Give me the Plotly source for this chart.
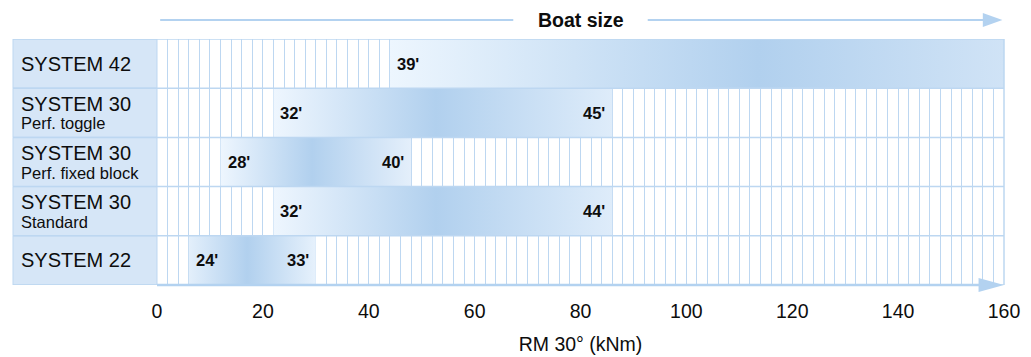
import plotly.graph_objects as go

# ---- data ----
systems = ["SYSTEM 42", "SYSTEM 30", "SYSTEM 30", "SYSTEM 30", "SYSTEM 22"]
subtitles = ["", "Perf. toggle", "Perf. fixed block", "Standard", ""]
rm_min = [44, 22, 12, 22, 6]
rm_max = [160, 86, 48, 86, 30]
size_min = ["39'", "32'", "28'", "32'", "24'"]
size_max = ["", "45'", "40'", "44'", "33'"]
x_ticks = [0, 20, 40, 60, 80, 100, 120, 140, 160]
x_title = "RM 30° (kNm)"
top_title = "Boat size"

# ---- style ----
FONT = "Liberation Sans, Arial, Helvetica, sans-serif"
TXT = "#0d0d0d"
GRID = "#bdd7f1"
LABEL_BG = "#d6e6f7"
ARROW = "#b3d2f0"
peaks = [0.6, 0.48, 0.48, 0.48, 0.46]
ends = ["#d0e3f6", "#deecfa", "#e4effb", "#deecfa", "#e6f1fc"]
starts = ["#edf6fe", "#eef6fe", "#eef6fe", "#eef6fe", "#e3effb"]
DARK = "#b1d0ee"

n = len(systems)
rows = list(range(n - 1, -1, -1))  # top row gets highest y

fig = go.Figure()

for i in range(n):
    y = rows[i]
    x0, x1 = rm_min[i], rm_max[i]
    fig.add_trace(go.Scatter(
        x=[x0, x1, x1, x0, x0],
        y=[y - 0.5, y - 0.5, y + 0.5, y + 0.5, y - 0.5],
        mode="lines", line=dict(width=0),
        fill="toself",
        fillgradient=dict(type="horizontal",
                          colorscale=[[0, starts[i]], [peaks[i], DARK], [1, ends[i]]]),
        hoverinfo="skip", showlegend=False,
    ))

shapes = []
annotations = []
PLOT_W = 847
PLOT_H = 246
left_px = 144 / PLOT_W  # width of label column in paper units

# label column cells
for i in range(n):
    y = rows[i]
    shapes.append(dict(type="rect", xref="paper", yref="y",
                       x0=-left_px, x1=0, y0=y - 0.5, y1=y + 0.5,
                       fillcolor=LABEL_BG, line=dict(color=GRID, width=1), layer="above"))
# row separators
for k in range(n + 1):
    yy = k - 0.5
    shapes.append(dict(type="line", xref="paper", yref="y",
                       x0=-left_px, x1=1, y0=yy, y1=yy,
                       line=dict(color=GRID, width=1.5), layer="above"))
# right border
shapes.append(dict(type="line", xref="paper", yref="paper", x0=1, x1=1, y0=0, y1=1,
                   line=dict(color=GRID, width=1.5), layer="above"))

# bottom arrow
ah = 7 / PLOT_H
shapes.append(dict(type="line", xref="x", yref="paper", x0=0, x1=156, y0=0, y1=0,
                   line=dict(color=ARROW, width=2.5), layer="above"))
shapes.append(dict(type="path", xref="x", yref="paper",
                   path=f"M 155.2,{ah} L 160,0 L 155.2,{-ah} Z",
                   fillcolor=ARROW, line=dict(width=0), layer="above"))
# top arrow
ytop = (PLOT_H + 19) / PLOT_H
shapes.append(dict(type="line", xref="x", yref="paper", x0=0.6, x1=67.3, y0=ytop, y1=ytop,
                   line=dict(color=ARROW, width=2), layer="above"))
shapes.append(dict(type="line", xref="x", yref="paper", x0=92.7, x1=156.5, y0=ytop, y1=ytop,
                   line=dict(color=ARROW, width=2), layer="above"))
shapes.append(dict(type="path", xref="x", yref="paper",
                   path=f"M 156.0,{ytop + ah} L 159.7,{ytop} L 156.0,{ytop - ah} Z",
                   fillcolor=ARROW, line=dict(width=0), layer="above"))

annotations.append(dict(text=top_title, xref="x", yref="paper", x=80, y=ytop,
                        xanchor="center", yanchor="middle", showarrow=False,
                        font=dict(family=FONT, size=19.5, color=TXT, weight="bold")))

# row labels
lx = -138 / PLOT_W
for i in range(n):
    y = rows[i]
    if subtitles[i]:
        annotations.append(dict(text=systems[i], xref="paper", yref="y", x=lx, y=y,
                                xanchor="left", yanchor="middle", yshift=9, showarrow=False,
                                font=dict(family=FONT, size=20, color=TXT)))
        annotations.append(dict(text=subtitles[i], xref="paper", yref="y", x=lx, y=y,
                                xanchor="left", yanchor="middle", yshift=-10.5, showarrow=False,
                                font=dict(family=FONT, size=16.5, color=TXT)))
    else:
        annotations.append(dict(text=systems[i], xref="paper", yref="y", x=lx, y=y,
                                xanchor="left", yanchor="middle", showarrow=False,
                                font=dict(family=FONT, size=20, color=TXT)))
    # bar labels
    annotations.append(dict(text=size_min[i], xref="x", yref="y", x=rm_min[i], y=y,
                            xanchor="left", yanchor="middle", xshift=5, showarrow=False,
                            font=dict(family=FONT, size=16.5, color=TXT, weight="bold")))
    if size_max[i]:
        annotations.append(dict(text=size_max[i], xref="x", yref="y", x=rm_max[i], y=y,
                                xanchor="right", yanchor="middle", xshift=-5, showarrow=False,
                                font=dict(family=FONT, size=16.5, color=TXT, weight="bold")))

fig.update_layout(
    width=1031, height=357,
    margin=dict(l=157, r=27, t=39, b=72),
    paper_bgcolor="white", plot_bgcolor="white",
    showlegend=False,
    shapes=shapes, annotations=annotations,
    xaxis=dict(range=[0, 160], tickvals=x_ticks, ticktext=[str(v) for v in x_ticks],
               automargin=False,
               showgrid=True, gridcolor=GRID, gridwidth=1,
               minor=dict(dtick=2, tick0=0, showgrid=True, gridcolor=GRID, gridwidth=1),
               zeroline=False, showline=False, ticks="",
               ticklabelstandoff=12,
               tickfont=dict(family=FONT, size=19.5, color=TXT),
               title=dict(text=x_title, standoff=16,
                          font=dict(family=FONT, size=19.5, color=TXT)),
               fixedrange=True),
    yaxis=dict(range=[-0.5, n - 0.5], automargin=False, showgrid=False, zeroline=False,
               showticklabels=False, ticks="", showline=False, fixedrange=True),
)

# remove the default 8px page margin so the 1031x357 figure fills the window exactly
fig.write_html(
    "out.html",
    config={"displayModeBar": False},
    post_script="document.documentElement.style.margin='0';document.body.style.margin='0';"
                "document.body.style.overflow='hidden';",
)
